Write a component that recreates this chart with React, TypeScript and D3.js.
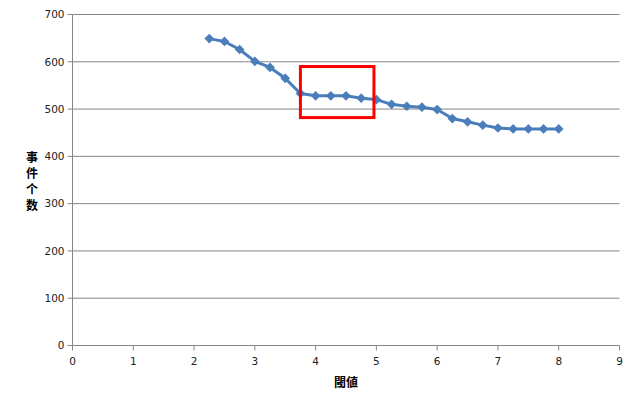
import React from "react";
import * as d3 from "d3";

const thresholds = [2.25, 2.5, 2.75, 3, 3.25, 3.5, 3.75, 4, 4.25, 4.5, 4.75, 5, 5.25, 5.5, 5.75, 6, 6.25, 6.5, 6.75, 7, 7.25, 7.5, 7.75, 8];
const eventCounts = [649, 643, 626, 601, 588, 565, 533, 528, 528, 528, 523, 520, 510, 506, 504, 499, 480, 473, 466, 460, 458, 458, 458, 458];
const xTicks = [0, 1, 2, 3, 4, 5, 6, 7, 8, 9];
const yTicks = [0, 100, 200, 300, 400, 500, 600, 700];
const highlightX = [3.75, 4.96];
const highlightY = [482, 590];
const yTitle = ["事", "件", "个", "数"];
const xTitle = "閾値";

export default function App() {
  const W = 637, H = 408;
  const x = d3.scaleLinear().domain([0, 9]).range([72.5, 619.5]);
  const y = d3.scaleLinear().domain([0, 700]).range([345.5, 14.5]);
  const line = d3.line<number>().x((_, i) => x(thresholds[i])).y((d) => y(d));
  const diamond = d3.symbol().type(d3.symbolDiamond2).size(60)();
  const axisColor = "#868686";
  const font = "'DejaVu Sans', Verdana, sans-serif";
  return (
    <svg width={W} height={H} style={{ position: "absolute", left: 0, top: 0, background: "#fff" }}>
      {yTicks.map((t) => (
        <g key={t}>
          {t > 0 && <line x1={x(0)} x2={x(9)} y1={y(t)} y2={y(t)} stroke={axisColor} strokeWidth={1} />}
          <line x1={x(0) - 5} x2={x(0)} y1={y(t)} y2={y(t)} stroke={axisColor} strokeWidth={1} />
          <text x={x(0) - 8} y={y(t)} dy="0.36em" textAnchor="end" fontSize={10.5} fontFamily={font} fill="#222">{t}</text>
        </g>
      ))}
      {xTicks.map((t) => (
        <g key={t}>
          <line x1={x(t)} x2={x(t)} y1={y(0)} y2={y(0) + 5} stroke={axisColor} strokeWidth={1} />
          <text x={x(t)} y={y(0) + 19} textAnchor="middle" fontSize={10.5} fontFamily={font} fill="#222">{t}</text>
        </g>
      ))}
      <line x1={x(0)} x2={x(0)} y1={y(700)} y2={y(0)} stroke={axisColor} strokeWidth={1} />
      <line x1={x(0)} x2={x(9)} y1={y(0)} y2={y(0)} stroke={axisColor} strokeWidth={1} />
      <path d={line(eventCounts) || ""} fill="none" stroke="#4a7ebb" strokeWidth={3} strokeLinejoin="round" />
      {eventCounts.map((v, i) => (
        <path key={i} d={diamond || ""} transform={`translate(${x(thresholds[i])},${y(v)})`} fill="#4a7ebb" />
      ))}
      <rect
        x={x(highlightX[0])}
        y={y(highlightY[1])}
        width={x(highlightX[1]) - x(highlightX[0])}
        height={y(highlightY[0]) - y(highlightY[1])}
        fill="none"
        stroke="#ff0000"
        strokeWidth={3}
      />
      {yTitle.map((c, i) => (
        <text key={i} x={32} y={162 + i * 16} textAnchor="middle" fontSize={12} fontWeight="bold" fontFamily="'Noto Sans CJK SC', sans-serif" fill="#000">{c}</text>
      ))}
      <text x={346} y={387} textAnchor="middle" fontSize={12} fontWeight="bold" fontFamily="'Noto Sans CJK JP', sans-serif" fill="#000">{xTitle}</text>
    </svg>
  );
}
